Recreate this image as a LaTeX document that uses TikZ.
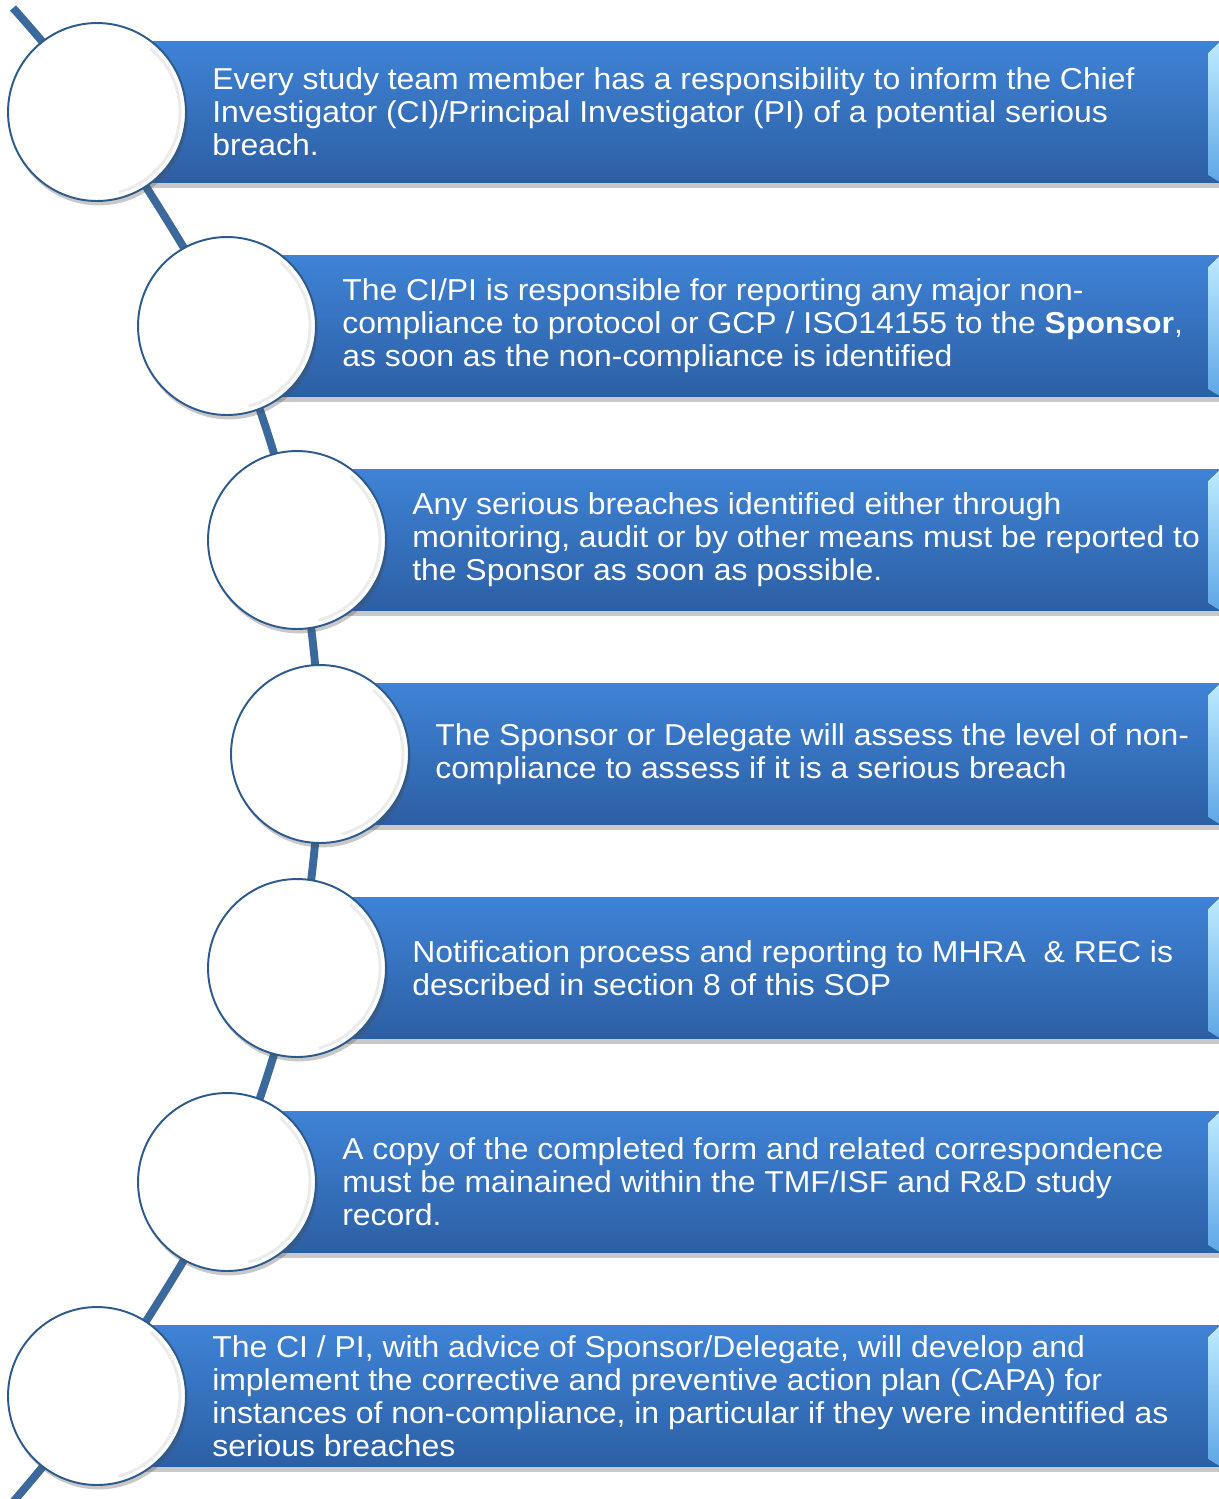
\documentclass[tikz,border=0pt]{standalone}
\usepackage{fontspec}
\setmainfont{Liberation Sans}[FakeStretch=1.056]
\usetikzlibrary{positioning, calc, shadows, backgrounds}
\definecolor{spine}{HTML}{3C699B}
\definecolor{ringblue}{HTML}{2C5A8C}
\definecolor{bartop}{HTML}{3F83D6}
\definecolor{barbot}{HTML}{2C5FA4}
\definecolor{bevtop}{HTML}{BDEBFF}
\definecolor{bevbot}{HTML}{5EA6E6}
% one blue band with its bevelled right end: #1 = x, #2 = y of the disc
\newcommand{\bandat}[2]{%
  \fill[band] (#1,#2-70.5) rectangle (1222,#2+70.5);
  \fill[bevel] (1208,#2-59) -- (1220,#2-70.5) -- (1220,#2+70.5) -- (1208,#2+63) -- cycle;}

\begin{document}
\begin{tikzpicture}[x=0.02cm, y=-0.02cm,
  every node/.style={font=\fontsize{17.2pt}{18.7pt}\selectfont},
  disc/.style={circle, draw=ringblue, line width=1.1pt, fill=white, minimum size=3.56cm, inner sep=0pt,
    drop shadow={shadow xshift=1pt, shadow yshift=-2.5pt, opacity=0.3, fill=black!70}},
  glint/.style={draw=black!8, line width=1.6pt},
  note/.style={align=left, text=white, inner sep=0pt},
  band/.style={top color=bartop, bottom color=barbot,
    drop shadow={shadow xshift=0pt, shadow yshift=-3pt, opacity=0.3, fill=black!70}},
  bevel/.style={top color=bevtop, bottom color=bevbot},
  spineline/.style={draw=spine, line width=4.5pt}]
\useasboundingbox (0,0) rectangle (1219,1499);
% Discs
\node[disc] (d1) at (97,112) {};
\node[disc] (d2) at (227,326) {};
\node[disc] (d3) at (297,540) {};
\node[disc] (d4) at (320,754) {};
\node[disc] (d5) at (297,968) {};
\node[disc] (d6) at (227,1182) {};
\node[disc] (d7) at (97,1396) {};
% Soft inner ring on each disc
\foreach \d in {d1,d2,d3,d4,d5,d6,d7}
  \draw[glint] ([shift={(-50:83)}]\d.center) arc[start angle=-50, end angle=75, radius=83];
% Texts
\node[note, right=0.5cm of d1] (t1) {Every study team member has a responsibility to inform the Chief\\Investigator (CI)/Principal Investigator (PI) of a potential serious\\breach.};
\node[note, right=0.5cm of d2] (t2) {The CI/PI is responsible for reporting any major non-\\compliance to protocol or GCP / ISO14155 to the \textbf{Sponsor},\\as soon as the non-compliance is identified};
\node[note, right=0.5cm of d3] (t3) {Any serious breaches identified either through\\monitoring, audit or by other means must be reported to\\the Sponsor as soon as possible.};
\node[note, right=0.5cm of d4] (t4) {The Sponsor or Delegate will assess the level of non-\\compliance to assess if it is a serious breach};
\node[note, right=0.5cm of d5] (t5) {Notification process and reporting to MHRA \ \& REC is\\described in section 8 of this SOP};
\node[note, right=0.5cm of d6] (t6) {A copy of the completed form and related correspondence\\must be mainained within the TMF/ISF and R\&D study\\record.};
\node[note, right=0.5cm of d7] (t7) {The CI / PI, with advice of Sponsor/Delegate, will develop and\\implement the corrective and preventive action plan (CAPA) for\\instances of non-compliance, in particular if they were indentified as\\serious breaches};
\begin{scope}[on background layer]
\fill[white] (0,0) rectangle (1219,1499);
% Spine through the discs
\coordinate (top) at (13,8);
\coordinate (bottom) at (6,1510);
\draw[spineline] plot[smooth] coordinates {(top) (d1.center) (d2.center) (d3.center) (d4.center) (d5.center) (d6.center) (d7.center) (bottom)};
% Bands
\bandat{97}{112}
\bandat{227}{326}
\bandat{297}{540}
\bandat{320}{754}
\bandat{297}{968}
\bandat{227}{1182}
\bandat{97}{1396}
\end{scope}
\end{tikzpicture}
\end{document}
